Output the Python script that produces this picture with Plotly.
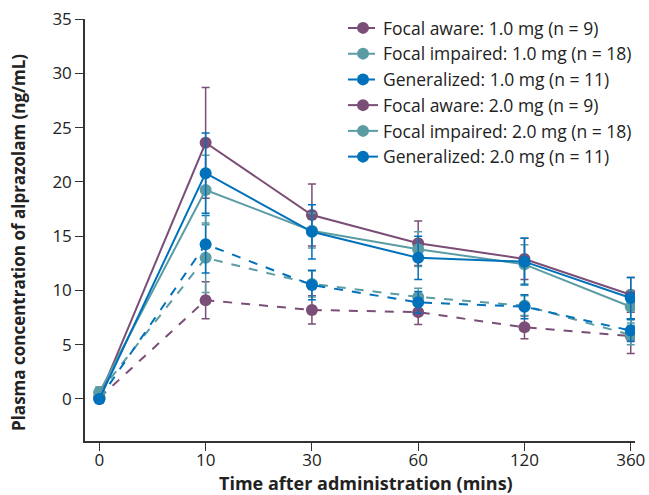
import plotly.graph_objects as go

times = ["0", "10", "30", "60", "120", "360"]
x_idx = [0, 1, 2, 3, 4, 5]

names = [
    "Focal aware: 1.0 mg (n = 9)",
    "Focal impaired: 1.0 mg (n = 18)",
    "Generalized: 1.0 mg (n = 11)",
    "Focal aware: 2.0 mg (n = 9)",
    "Focal impaired: 2.0 mg (n = 18)",
    "Generalized: 2.0 mg (n = 11)",
]

fa_10 = [0.1, 9.1, 8.2, 8.0, 6.6, 5.8]
fa_10_err = [0.2, 1.7, 1.3, 1.15, 1.05, 1.6]
fi_10 = [0.6, 13.0, 10.6, 9.4, 8.6, 5.9]
fi_10_err = [0.5, 3.2, 1.2, 0.8, 0.9, 0.9]
ge_10 = [0.0, 14.25, 10.5, 8.9, 8.5, 6.3]
ge_10_err = [0.1, 2.65, 1.35, 1.0, 1.1, 1.0]
fa_20 = [0.2, 23.6, 16.95, 14.35, 12.9, 9.6]
fa_20_err = [0.3, 5.1, 2.85, 2.05, 1.9, 1.6]
fi_20 = [0.6, 19.25, 15.5, 13.8, 12.4, 8.5]
fi_20_err = [0.5, 3.2, 1.6, 1.6, 1.8, 1.5]
ge_20 = [0.0, 20.8, 15.4, 13.0, 12.65, 9.3]
ge_20_err = [0.1, 3.7, 2.5, 2.0, 2.15, 1.9]

x_title = "Time after administration (mins)"
y_title = "Plasma concentration of alprazolam (ng/mL)"

purple = "#7A4E76"
teal = "#5B9CA4"
blue = "#0071BA"

series = [
    (fa_10, fa_10_err, purple, "dash"),
    (fi_10, fi_10_err, teal, "dash"),
    (ge_10, ge_10_err, blue, "dash"),
    (fa_20, fa_20_err, purple, "solid"),
    (fi_20, fi_20_err, teal, "solid"),
    (ge_20, ge_20_err, blue, "solid"),
]

FONT = "Open Sans, Lato, sans-serif"
W, H = 649, 495
L, R, T, B = 85, 14, 19, 54
PW, PH = W - L - R, H - T - B

fig = go.Figure()
for name, (vals, errs, col, dash) in zip(names, series):
    fig.add_trace(go.Scatter(
        x=x_idx, y=vals, name=name, mode="lines+markers",
        line=dict(color=col, width=2, dash=dash),
        marker=dict(color=col, size=12),
        error_y=dict(type="data", array=errs, visible=True, color=col,
                     thickness=1.5, width=4),
    ))

fig.update_layout(
    width=W, height=H,
    margin=dict(l=L, r=R, t=T, b=B, autoexpand=False),
    plot_bgcolor="white", paper_bgcolor="white",
    font=dict(family=FONT, size=17, color="#222"),
    showlegend=True,
    legend=dict(x=(343 - L) / PW, y=(H - B - 10) / PH, xanchor="left", yanchor="top",
                bgcolor="rgba(0,0,0,0)", font=dict(family=FONT, size=17.5, color="#222"),
                tracegroupgap=0, itemwidth=30),
    xaxis=dict(
        range=[-0.135, 5.04], tickmode="array", tickvals=x_idx, ticktext=times,
        showgrid=False, zeroline=False, showline=True, linecolor="#333",
        linewidth=1.5, ticks="outside", ticklen=8, tickcolor="#333",
        tickfont=dict(family=FONT, size=17, color="#222"), automargin=False,
        ticklabelstandoff=-5,
    ),
    yaxis=dict(
        range=[-3.87, 35], tickmode="array", tickvals=[0, 5, 10, 15, 20, 25, 30, 35],
        showgrid=False, zeroline=False, showline=True, linecolor="#333",
        linewidth=1.5, ticks="outside", ticklen=8, tickcolor="#333",
        tickfont=dict(family=FONT, size=17, color="#222"), automargin=False,
    ),
    annotations=[
        dict(text="<b>" + x_title + "</b>", xref="paper", yref="paper",
             x=(366 - L) / PW, y=-(482.5 - (H - B)) / PH, xanchor="center", yanchor="middle",
             showarrow=False, font=dict(family=FONT, size=18, color="#222")),
        dict(text="<b>" + y_title + "</b>", xref="paper", yref="paper",
             x=-(L - 19) / PW, y=(H - B - 243) / PH, xanchor="center", yanchor="middle",
             textangle=-90, showarrow=False, font=dict(family=FONT, size=17, color="#222")),
    ],
)

fig.write_html(
    "out.html",
    config={"displayModeBar": False},
    post_script="document.body.style.margin='0';document.body.style.overflow='hidden';",
)
